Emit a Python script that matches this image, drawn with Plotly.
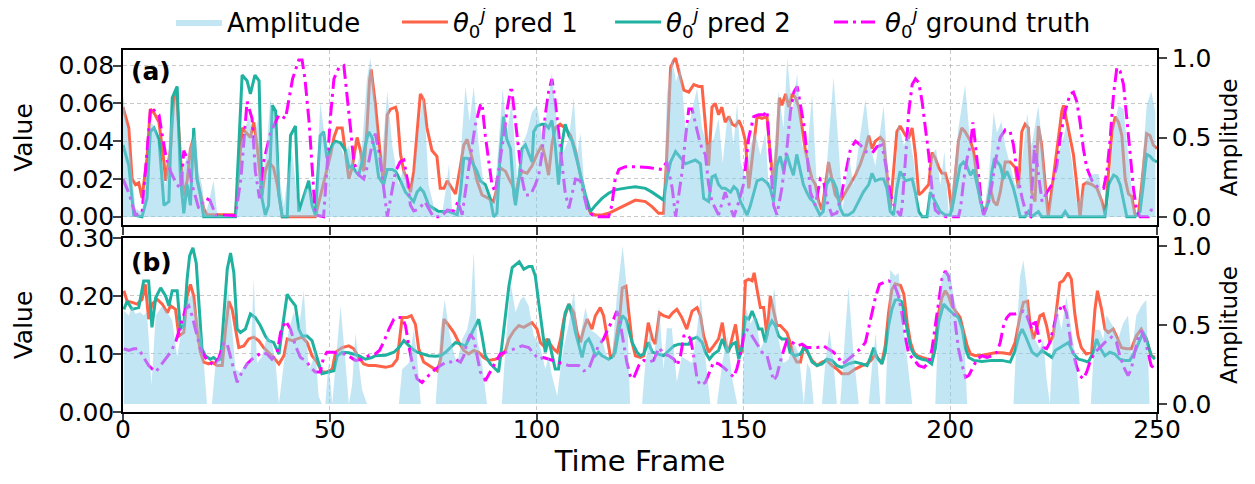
import plotly.graph_objects as go

# ---------------- Panel (a) data ----------------
a_amp_t = [0, 1.8, 3.0, 4.6, 5.8, 6.6, 7.9, 9.1, 10.3, 11.5, 12.7, 13.9, 15.1, 16.3, 17.5, 18.3, 19.1, 20.0, 20.7, 21.9, 22.8, 27.2,
           28.4, 29.6, 30.4, 31.6, 32.8, 33.6, 34.8, 35.6, 36.9, 38.1, 38.9, 39.7, 40.9, 42.1, 42.9, 44.1, 45.3, 46.5, 47.7, 48.5,
           49.8, 51.0, 52.2, 53.4, 54.6, 56.2, 57.8, 59.0, 59.8, 60.6, 61.8, 62.6, 63.9, 65.1, 66.7, 67.9, 69.1, 70.3, 71.5, 72.7,
           73.9, 75.5, 77.2, 78.1, 78.8, 79.6, 80.8, 81.8, 82.8, 83.8, 84.8, 86.0, 87.2, 88.4, 89.6, 90.8, 91.8, 92.8, 94.0, 95.3,
           96.5, 97.7, 98.9, 100.1, 101.3, 102.5, 103.7, 104.9, 106.1, 107.8, 109.0, 109.8, 110.6, 111.4, 112.6, 113.5, 130.7,
           131.5, 132.8, 133.7, 134.8, 136.0, 137.2, 138.8, 140.0, 141.2, 142.8, 144.0, 145.0, 146.0, 146.8, 147.6, 148.5, 149.3,
           150.5, 151.7, 152.9, 154.1, 155.3, 156.1, 157.3, 158.5, 159.7, 160.6, 161.8, 163.0, 164.2, 165.4, 166.6, 167.8, 168.6,
           169.8, 170.6, 171.8, 173.0, 174.0, 175.5, 176.6, 177.9, 179.5, 180.7, 181.9, 183.9, 185.1, 186.1, 187.5, 188.8, 190.0,
           191.2, 192.4, 194.4, 195.6, 196.6, 197.6, 198.6, 199.6, 200.8, 202.0, 203.6, 204.9, 206.5, 208.1, 209.3, 210.5, 211.3,
           212.4, 213.3, 214.5, 215.7, 216.9, 218.6, 219.7, 221.3, 222.5, 223.7, 224.9, 226.1, 227.3, 228.1, 229.4, 230.6, 231.8,
           233.0, 234.7, 235.9, 237.1, 238.3, 239.5, 240.7, 241.9, 243.1, 244.3, 245.5, 246.7, 247.5, 248.6, 249.6]
a_amp = [0.77, 0.39, 0.05, 0.03, 0.28, 0.60, 0.56, 0.39, 0.20, 0.60, 0.77, 0.28, 0.35, 0.45, 0.53, 0.28, 0.20, 0.02, 0.09, 0.23, 0.01, 0.0,
         0.45, 0.56, 0.64, 0.49, 0.64, 0.20, 0.45, 0.74, 0.56, 0.20, 0.07, 0.24, 0.41, 0.12, 0.03, 0.18, 0.16, 0.03, 0.72, 0.56,
         0.39, 0.47, 0.47, 0.39, 0.45, 0.28, 0.45, 0.87, 1.0, 0.83, 0.41, 0.37, 0.79, 0.45, 0.20, 0.32, 0.16, 0.24, 0.56, 0.78,
         0.20, 0.03, 0.03, 0.18, 0.33, 0.03, 0.05, 0.45, 0.82, 0.60, 0.82, 0.45, 0.20, 0.12, 0.09, 0.45, 0.81, 0.53, 0.72, 0.24,
         0.45, 0.53, 0.66, 0.70, 0.51, 0.66, 0.91, 0.58, 0.39, 0.49, 0.75, 0.39, 0.53, 0.24, 0.02, 0.0, 0.0,
         0.77, 1.0, 0.85, 0.94, 0.56, 0.62, 0.81, 0.56, 0.45, 0.49, 0.62, 0.34, 0.60, 0.65, 0.45, 0.72, 0.35,
         0.24, 0.45, 0.53, 0.39, 0.53, 0.20, 0.35, 0.79, 0.56, 1.0, 0.66, 0.90, 0.45, 0.39, 0.77, 0.18, 0.03,
         0.20, 0.45, 0.88, 0.45, 0.05, 0.39, 0.20, 0.45, 0.74, 0.45, 0.32, 0.70, 0.24, 0.01, 0.58, 0.45, 0.53,
         0.35, 0.01, 0.01, 0.39, 0.43, 0.20, 0.41, 0.03, 0.24, 0.56, 0.83, 0.45, 0.32, 0.03, 0.24, 0.66, 0.53,
         0.60, 0.45, 0.32, 0.20, 0.24, 0.65, 0.45, 0.70, 0.39, 0.03, 0.20, 0.39, 0.49, 0.58, 0.35, 0.09, 0.12,
         0.24, 0.27, 0.27, 0.03, 0.09, 0.56, 0.70, 0.68, 0.35, 0.07, 0.0, 0.45, 0.70, 0.79, 0.66]

a_pred1_t = [0, 1.4, 2.2, 3.0, 3.8, 4.6, 5.8, 6.6, 7.5, 8.7, 9.9, 10.3, 11.5, 12.3, 12.9, 13.9, 14.7, 15.5, 16.3, 17.1, 17.9, 18.7,
             19.5, 20.3, 27.2, 28.8, 30.0, 30.8, 31.6, 32.4, 33.6, 34.4, 35.2, 36.4, 37.3, 38.5, 46.5, 48.5, 50.2, 51.0, 51.8, 53.0,
             53.8, 54.6, 55.4, 56.6, 57.4, 58.2, 59.0, 59.6, 60.0, 61.0, 62.2, 63.0, 63.9, 64.7, 65.9, 66.3, 67.1, 67.9, 68.7, 69.5,
             70.3, 71.1, 71.9, 72.7, 73.5, 74.7, 75.9, 76.7, 77.6, 78.4, 79.2, 80.4, 81.6, 82.4, 83.2, 84.4, 85.6, 86.8, 88.4, 89.6,
             90.4, 91.2, 92.5, 93.3, 94.1, 94.9, 95.7, 96.5, 97.7, 98.9, 100.1, 101.3, 102.1, 102.9, 103.7, 104.5, 105.7, 106.9,
             108.2, 109.4, 110.6, 111.8, 113.0, 114.2, 115.8, 117.4, 119.0, 120.6, 122.2, 123.9, 126.3, 127.9, 129.5, 130.7, 131.5,
             132.4, 133.2, 133.6, 134.4, 135.6, 136.8, 138.0, 139.2, 140.0, 140.8, 141.6, 142.4, 143.2, 144.0, 144.8, 145.6, 146.5,
             147.3, 148.1, 148.9, 149.7, 150.5, 151.3, 152.5, 153.3, 154.5, 155.7, 156.5, 157.3, 158.1, 158.7, 159.3, 160.2, 161.0,
             161.8, 162.6, 163.4, 164.2, 165.0, 165.8, 166.6, 167.4, 168.2, 169.0, 169.8, 170.6, 171.4, 172.2, 173.4, 174.6, 175.9,
             177.1, 178.3, 179.5, 180.3, 181.1, 181.9, 183.1, 183.9, 184.7, 185.5, 186.3, 187.1, 187.9, 189.2, 190.0, 190.8, 191.6,
             192.4, 193.2, 194.0, 194.8, 195.6, 196.4, 197.2, 198.0, 198.8, 199.6, 200.4, 201.2, 202.0, 202.8, 203.6, 204.9, 205.7,
             206.5, 207.3, 208.1, 208.9, 209.7, 210.5, 211.3, 212.1, 213.3, 214.5, 215.7, 216.5, 217.3, 218.1, 218.9, 219.7, 220.5,
             221.3, 222.1, 222.9, 223.7, 224.6, 225.4, 226.2, 227.0, 227.4, 228.2, 229.0, 229.8, 230.6, 231.4, 232.2, 233.0, 234.3,
             235.5, 236.7, 237.5, 238.3, 239.1, 239.9, 240.7, 241.5, 242.3, 243.1, 243.9, 244.7, 245.5, 246.3, 247.1, 247.5, 248.3,
             249.1, 250]
a_pred1 = [0.058, 0.047, 0.020, 0.017, 0.018, 0.010, 0.031, 0.057, 0.055, 0.050, 0.029, 0.019, 0.036, 0.063, 0.067, 0.031, 0.011, 0.019,
           0.036, 0.042, 0.020, 0.013, 0.0044, 0.001, 0.001, 0.047, 0.044, 0.042, 0.050, 0.038, 0.0115, 0.024, 0.029, 0.026, 0.017,
           0.0, 0.0, 0.017, 0.033, 0.042, 0.047, 0.047, 0.033, 0.020, 0.026, 0.042, 0.035, 0.024, 0.047, 0.072, 0.078, 0.060, 0.033,
           0.017, 0.054, 0.057, 0.058, 0.055, 0.033, 0.024, 0.020, 0.013, 0.024, 0.047, 0.065, 0.062, 0.047, 0.035, 0.032, 0.015,
           0.015, 0.019, 0.016, 0.012, 0.027, 0.038, 0.041, 0.031, 0.019, 0.0115, 0.0097, 0.008, 0.015, 0.026, 0.024, 0.020, 0.017,
           0.0115, 0.020, 0.024, 0.023, 0.027, 0.033, 0.038, 0.031, 0.022, 0.038, 0.047, 0.049, 0.047, 0.043, 0.035, 0.022, 0.0097,
           0.0018, 0.0009, 0.0009, 0.0018, 0.0035, 0.0053, 0.0071, 0.0088, 0.0080, 0.0053, 0.0018, 0.0018, 0.033, 0.079, 0.083,
           0.084, 0.077, 0.067, 0.066, 0.070, 0.069, 0.069, 0.049, 0.027, 0.058, 0.060, 0.054, 0.058, 0.050, 0.053, 0.049, 0.048,
           0.051, 0.047, 0.040, 0.015, 0.038, 0.053, 0.052, 0.053, 0.033, 0.017, 0.038, 0.063, 0.059, 0.065, 0.058, 0.065, 0.063,
           0.058, 0.047, 0.035, 0.027, 0.020, 0.017, 0.008, 0.0035, 0.017, 0.029, 0.020, 0.0115, 0.008, 0.0124, 0.017, 0.022,
           0.028, 0.036, 0.043, 0.036, 0.040, 0.042, 0.040, 0.024, 0.0044, 0.024, 0.045, 0.048, 0.043, 0.042, 0.047, 0.033,
           0.0115, 0.013, 0.015, 0.017, 0.034, 0.031, 0.026, 0.023, 0.023, 0.017, 0.0027, 0.020, 0.040, 0.047, 0.045, 0.040,
           0.034, 0.020, 0.008, 0.0027, 0.006, 0.015, 0.008, 0.006, 0.013, 0.029, 0.029, 0.026, 0.015, 0.045, 0.049, 0.047, 0.013,
           0.008, 0.048, 0.038, 0.018, 0.0, 0.015, 0.029, 0.040, 0.056, 0.059, 0.050, 0.042, 0.033, 0.017, 0.0, 0.017, 0.018,
           0.017, 0.015, 0.008, 0.0009, 0.024, 0.045, 0.053, 0.050, 0.043, 0.020, 0.012, 0.0106, 0.0009, 0.0009, 0.017, 0.038,
           0.044, 0.043, 0.038, 0.036]

a_pred2_t = [0, 1.4, 2.6, 4.6, 5.8, 6.6, 7.5, 8.7, 9.9, 11.1, 11.9, 13.1, 13.9, 14.7, 15.5, 16.3, 17.1, 17.9, 18.7, 19.5, 27.2, 28.8,
             30.0, 30.8, 31.9, 32.9, 33.6, 34.4, 35.2, 36.1, 36.9, 37.7, 38.5, 39.7, 40.5, 41.7, 42.5, 43.7, 44.9, 45.7, 46.5, 47.7,
             48.5, 49.3, 50.6, 51.4, 52.6, 53.8, 54.6, 55.4, 56.2, 57.0, 57.8, 58.6, 59.4, 60.2, 61.0, 61.8, 63.0, 63.9, 65.1, 65.9,
             67.1, 68.3, 69.5, 70.3, 71.1, 71.9, 72.7, 73.9, 75.1, 76.3, 77.6, 78.8, 80.0, 80.8, 81.6, 82.4, 83.2, 84.4, 85.6, 86.4,
             87.6, 88.8, 89.6, 90.4, 91.2, 92.0, 92.8, 93.7, 94.5, 94.9, 95.7, 96.5, 97.3, 98.1, 98.9, 99.3, 100.1, 101.3, 102.1,
             102.9, 103.7, 104.5, 105.3, 106.1, 106.9, 107.8, 108.6, 109.4, 110.6, 111.8, 113.0, 114.2, 115.8, 117.4, 119.0, 120.6,
             122.2, 123.9, 126.3, 127.9, 129.5, 130.7, 131.5, 132.4, 133.6, 134.8, 136.0, 137.2, 138.4, 139.6, 140.4, 141.6, 142.4,
             143.2, 144.0, 144.8, 145.6, 146.9, 147.7, 148.5, 149.3, 150.1, 150.9, 151.7, 152.5, 153.3, 154.5, 155.7, 156.5, 157.3,
             158.1, 158.9, 159.7, 160.5, 161.3, 162.1, 162.9, 163.7, 164.5, 165.3, 166.1, 166.9, 167.7, 168.5, 169.3, 170.1, 170.9,
             171.7, 172.5, 173.4, 174.2, 175.4, 176.6, 177.8, 179.0, 180.3, 181.1, 181.9, 183.1, 183.9, 184.7, 185.5, 186.3, 187.1,
             187.9, 189.2, 190.0, 190.8, 191.6, 192.4, 193.2, 194.4, 195.2, 196.0, 196.8, 197.6, 198.8, 200.0, 200.8, 201.6, 202.4,
             203.2, 204.0, 204.9, 205.7, 206.5, 207.3, 208.1, 209.3, 210.1, 210.7, 211.3, 212.1, 212.9, 213.7, 214.5, 215.3, 216.1,
             216.9, 218.1, 218.9, 219.7, 221.3, 222.1, 227.0, 227.8, 228.6, 237.4, 238.3, 239.5, 240.3, 241.1, 241.9, 242.7, 244.7,
             245.9, 246.7, 247.5, 248.3, 249.1, 250]
a_pred2 = [0.038, 0.027, 0.0009, 0.0, 0.0097, 0.045, 0.047, 0.041, 0.006, 0.008, 0.063, 0.069, 0.020, 0.0018, 0.017, 0.006, 0.047, 0.020,
           0.0115, 0.0, 0.0, 0.075, 0.072, 0.065, 0.075, 0.072, 0.0097, 0.0009, 0.006, 0.059, 0.056, 0.0115, 0.0, 0.0, 0.043, 0.048,
           0.0027, 0.0115, 0.019, 0.006, 0.0009, 0.043, 0.045, 0.031, 0.038, 0.040, 0.039, 0.035, 0.026, 0.027, 0.024, 0.022,
           0.029, 0.038, 0.045, 0.042, 0.034, 0.021, 0.017, 0.025, 0.025, 0.024, 0.019, 0.013, 0.0097, 0.008, 0.013, 0.015,
           0.013, 0.006, 0.0044, 0.0027, 0.0027, 0.0027, 0.0018, 0.0009, 0.013, 0.031, 0.031, 0.029, 0.024, 0.019, 0.017,
           0.0097, 0.0, 0.0018, 0.033, 0.053, 0.041, 0.036, 0.0115, 0.006, 0.019, 0.036, 0.038, 0.033, 0.029, 0.045, 0.048,
           0.049, 0.049, 0.047, 0.051, 0.038, 0.017, 0.038, 0.049, 0.043, 0.040, 0.033, 0.022, 0.0115, 0.0027, 0.006, 0.0097,
           0.0124, 0.0142, 0.015, 0.0154, 0.0159, 0.015, 0.013, 0.0106, 0.0088, 0.020, 0.029, 0.0345, 0.031, 0.028, 0.029,
           0.030, 0.028, 0.0097, 0.008, 0.021, 0.022, 0.017, 0.015, 0.015, 0.013, 0.0159, 0.0142, 0.008, 0.0044, 0.0009, 0.006,
           0.013, 0.019, 0.020, 0.018, 0.015, 0.008, 0.027, 0.032, 0.024, 0.033, 0.027, 0.022, 0.033, 0.024, 0.017, 0.013,
           0.0097, 0.008, 0.0044, 0.0009, 0.0027, 0.017, 0.020, 0.019, 0.015, 0.0044, 0.0009, 0.0009, 0.0027, 0.008, 0.013,
           0.017, 0.023, 0.019, 0.020, 0.020, 0.015, 0.0027, 0.0009, 0.015, 0.024, 0.019, 0.0195, 0.020, 0.0124, 0.0027, 0.0,
           0.0, 0.013, 0.0097, 0.006, 0.0027, 0.0009, 0.0009, 0.008, 0.017, 0.027, 0.029, 0.027, 0.022, 0.025, 0.017, 0.008,
           0.0009, 0.008, 0.024, 0.031, 0.029, 0.027, 0.020, 0.024, 0.020, 0.015, 0.008, 0.0, 0.0, 0.0027, 0.0, 0.0027, 0.0,
           0.0, 0.0027, 0.0, 0.0, 0.017, 0.022, 0.021, 0.017, 0.008, 0.0, 0.0, 0.0027, 0.017, 0.033, 0.032, 0.030, 0.029]

a_gt_t = [0, 1.5, 3.0, 4.6, 6.7, 8.7, 9.5, 10.3, 11.5, 13.0, 14.0, 14.7, 15.5, 16.7, 18.3, 20.0, 21.0, 22.4, 27.2, 28.5, 30.0, 31.2,
          32.0, 33.0, 34.0, 35.6, 37.7, 39.3, 41.0, 42.5, 43.3, 44.0, 45.0, 45.7, 46.5, 48.5, 50.2, 51.0, 52.2, 53.4, 54.2, 55.0,
          55.8, 57.0, 58.2, 59.4, 60.2, 61.0, 62.0, 63.9, 65.9, 67.0, 67.9, 68.7, 69.5, 70.3, 71.5, 73.0, 75.0, 77.0, 78.4, 80.0,
          81.0, 82.0, 83.2, 84.4, 85.2, 86.4, 86.8, 87.6, 88.4, 89.2, 90.0, 91.2, 92.0, 92.8, 93.7, 94.0, 94.9, 95.7, 96.5, 97.3,
          98.5, 99.7, 100.5, 101.3, 102.1, 102.9, 103.7, 104.5, 105.3, 106.1, 106.9, 107.8, 108.6, 109.4, 110.6, 111.4, 112.2,
          113.4, 115.0, 117.4, 118.2, 119.0, 119.9, 121.5, 124.0, 127.0, 130.3, 131.5, 132.8, 133.6, 135.2, 136.0, 136.8, 137.6,
          138.4, 139.2, 140.0, 140.8, 141.6, 142.4, 144.0, 145.6, 146.9, 147.7, 148.9, 150.0, 151.3, 152.5, 153.7, 154.9, 155.7,
          156.5, 157.3, 158.1, 159.3, 160.6, 161.4, 162.2, 163.0, 163.8, 164.6, 165.4, 166.2, 167.4, 168.6, 169.4, 170.2, 171.4,
          172.6, 173.8, 174.6, 175.9, 177.1, 178.3, 179.5, 181.1, 182.3, 183.5, 184.7, 185.5, 186.7, 188.0, 188.4, 189.2, 190.0,
          190.8, 191.6, 192.4, 193.2, 194.0, 194.8, 195.6, 196.4, 197.6, 199.0, 202.0, 202.5, 203.3, 204.1, 204.9, 205.5, 206.1,
          206.9, 207.7, 208.1, 209.3, 210.1, 210.9, 212.1, 213.3, 214.5, 215.3, 216.1, 217.4, 218.6, 219.4, 220.4, 221.4, 222.2,
          223.4, 224.6, 225.8, 226.6, 227.8, 229.0, 229.8, 230.6, 231.4, 232.2, 233.0, 234.3, 235.9, 237.1, 237.9, 238.7, 239.5,
          240.3, 241.1, 241.9, 242.7, 243.5, 244.3, 245.1, 245.9, 247.9, 248.6, 250]
a_gt = [0.020, 0.012, 0.001, 0.002, 0.058, 0.054, 0.043, 0.033, 0.024, 0.017, 0.015, 0.035, 0.031, 0.017, 0.0044, 0.0097, 0.0088, 0.0009,
        0.0005, 0.020, 0.061, 0.052, 0.024, 0.0097, 0.029, 0.044, 0.054, 0.052, 0.073, 0.083, 0.083, 0.073, 0.050, 0.024, 0.001,
        0.0, 0.054, 0.073, 0.079, 0.080, 0.065, 0.047, 0.029, 0.022, 0.020, 0.029, 0.038, 0.044, 0.033, 0.0, 0.024, 0.029, 0.030,
        0.020, 0.006, 0.003, 0.004, 0.008, 0.0, 0.0, 0.0035, 0.003, 0.008, 0.001, 0.020, 0.038, 0.049, 0.059, 0.060, 0.043, 0.029,
        0.017, 0.013, 0.029, 0.042, 0.056, 0.067, 0.067, 0.049, 0.033, 0.020, 0.0115, 0.0115, 0.017, 0.022, 0.033, 0.054, 0.066,
        0.073, 0.061, 0.045, 0.029, 0.013, 0.0044, 0.0115, 0.020, 0.019, 0.0115, 0.0044, 0.001, 0.0, 0.0, 0.006, 0.020, 0.025,
        0.0265, 0.0265, 0.026, 0.025, 0.029, 0.015, 0.0, 0.024, 0.042, 0.057, 0.057, 0.049, 0.042, 0.036, 0.033, 0.017, 0.008,
        0.001, 0.013, 0.0044, 0.0, 0.008, 0.017, 0.042, 0.053, 0.054, 0.054, 0.056, 0.033, 0.006, 0.001, 0.015, 0.038, 0.056,
        0.066, 0.069, 0.059, 0.049, 0.033, 0.013, 0.006, 0.020, 0.019, 0.008, 0.001, 0.002, 0.013, 0.022, 0.036, 0.040, 0.038,
        0.0345, 0.0336, 0.037, 0.038, 0.024, 0.012, 0.0044, 0.0005, 0.006, 0.031, 0.056, 0.070, 0.073, 0.071, 0.061, 0.047,
        0.033, 0.015, 0.0035, 0.001, 0.0, 0.0, 0.0044, 0.020, 0.031, 0.038, 0.050, 0.038, 0.020, 0.0044, 0.001, 0.008, 0.017,
        0.029, 0.042, 0.046, 0.045, 0.038, 0.024, 0.0097, 0.0, 0.0, 0.038, 0.020, 0.008, 0.013, 0.017, 0.027, 0.042, 0.056,
        0.065, 0.066, 0.061, 0.050, 0.036, 0.026, 0.019, 0.015, 0.015, 0.024, 0.042, 0.065, 0.079, 0.077, 0.070, 0.052, 0.033,
        0.015, 0.003, 0.0, 0.0, 0.0035, 0.003]

# ---------------- Panel (b) data ----------------
b_amp_t = [0.2, 1.4, 2.2, 3.0, 4.2, 5.0, 5.8, 6.9, 7.9, 9.5, 10.7, 11.9, 13.1, 14.3, 15.5, 16.7, 17.9, 19.1, 20.3, 21.5, 22.4, 23.6,
           24.4, 25.4, 26.4, 27.2, 28.4, 29.6, 30.8, 31.6, 32.4, 33.6, 34.8, 36.0, 36.9, 37.7, 38.9, 40.1, 41.3, 42.5, 43.7, 44.9,
           45.7, 46.5, 47.3, 48.1, 48.9, 49.7, 50.6, 51.4, 52.6, 53.8, 54.6, 55.4, 56.2, 57.0, 57.8, 59.0, 66.7, 67.5, 69.1, 70.3,
           71.1, 72.0, 75.6, 76.8, 77.8, 78.8, 80.0, 80.8, 82.0, 83.2, 84.0, 84.8, 85.6, 86.8, 88.0, 91.6, 92.5, 93.7, 94.9, 96.1,
           96.9, 98.1, 99.3, 100.5, 101.3, 102.1, 102.9, 103.7, 105.0, 106.1, 107.8, 109.0, 110.2, 111.8, 113.0, 114.2, 115.8,
           117.0, 118.2, 119.4, 120.8, 121.6, 122.6, 125.5, 126.3, 127.5, 128.3, 129.6, 130.7, 131.5, 132.7, 133.9, 135.1, 136.3,
           137.6, 138.8, 139.7, 140.8, 142.0, 143.6, 144.9, 146.1, 147.3, 148.5, 149.7, 150.5, 151.7, 152.9, 154.1, 155.3, 156.5,
           157.5, 158.5, 159.7, 160.9, 162.1, 163.4, 164.6, 165.4, 166.2, 167.0, 169.0, 169.8, 170.8, 171.8, 172.6, 173.4, 174.2,
           175.4, 176.6, 177.9, 180.3, 181.1, 182.0, 183.1, 184.3, 185.5, 186.7, 187.5, 188.8, 190.0, 190.8, 196.4, 197.2, 198.0,
           198.8, 200.0, 200.8, 202.0, 203.3, 204.1, 215.3, 216.1, 216.9, 217.7, 218.5, 219.3, 220.5, 221.7, 222.5, 223.3, 224.1,
           224.9, 225.7, 226.9, 228.1, 229.3, 230.5, 231.3, 234.0, 235.0, 236.2, 237.0, 237.8, 239.4, 240.6, 241.8, 243.0, 243.8,
           245.0, 246.2, 247.4, 248.2, 249.5]
b_amp = [0.59, 0.56, 0.62, 0.57, 0.58, 0.56, 0.58, 0.12, 0.56, 0.62, 0.58, 0.53, 0.30, 0.49, 0.65, 0.70, 0.56, 0.41, 0.0, 0.0, 0.26, 0.32,
         0.47, 0.72, 0.47, 0.22, 0.20, 0.26, 0.26, 0.79, 0.26, 0.30, 0.43, 0.39, 0.26, 0.0, 0.26, 0.47, 0.58, 0.47, 0.72, 0.22,
         0.26, 0.35, 0.05, 0.0, 0.0, 0.26, 0.0, 0.26, 0.62, 0.26, 0.0, 0.12, 0.45, 0.26, 0.09, 0.0, 0.0, 0.22, 0.26, 0.47,
         0.30, 0.0, 0.0, 0.47, 0.66, 0.47, 0.32, 0.26, 0.41, 0.47, 0.58, 0.96, 0.41, 0.26, 0.0, 0.0, 0.37, 0.77, 0.58, 0.66,
         0.68, 0.62, 0.43, 0.39, 0.32, 0.22, 0.30, 0.18, 0.05, 0.30, 0.51, 0.71, 0.37, 0.61, 0.47, 0.45, 0.41,
         0.30, 0.28, 0.68, 1.0, 0.79, 0.0, 0.0, 0.26, 0.47, 0.26, 0.62, 0.22, 0.48, 0.48, 0.14, 0.30, 0.28,
         0.26, 0.47, 0.69, 0.30, 0.0, 0.0, 0.26, 0.43, 0.16, 0.0, 0.0, 0.62, 0.51, 0.56, 0.35, 0.41, 0.58,
         0.73, 0.41, 0.26, 0.28, 0.39, 0.32, 0.0, 0.26, 0.22, 0.0, 0.0, 0.26, 0.47, 0.26, 0.0, 0.0, 0.30,
         0.74, 0.32, 0.0, 0.0, 0.24, 0.45, 0.0, 0.0, 0.85, 0.81, 0.83, 0.47, 0.18, 0.0, 0.0, 0.58, 0.81,
         0.84, 0.83, 0.68, 0.56, 0.47, 0.0, 0.0, 0.47, 0.81, 0.91, 0.74, 0.47, 0.41, 0.35, 0.41, 0.16, 0.0,
         0.47, 0.62, 0.47, 0.68, 0.47, 0.26, 0.0, 0.0, 0.47, 0.47, 0.41, 0.56, 0.49, 0.41, 0.51, 0.56, 0.30,
         0.56, 0.62, 0.66, 0.0, 0.0]

b_pred1_t = [0.2, 1.0, 2.2, 3.4, 4.6, 5.4, 6.2, 7.0, 8.3, 9.5, 10.7, 11.5, 12.7, 13.5, 14.7, 15.5, 16.3, 17.1, 17.9, 18.7, 19.5, 20.7,
             21.5, 22.8, 24.0, 24.8, 25.6, 26.4, 27.2, 28.0, 29.2, 30.4, 31.6, 32.8, 34.0, 35.2, 36.4, 37.7, 38.9, 39.7, 40.9, 42.1,
             43.3, 44.5, 45.7, 46.9, 48.1, 49.3, 50.6, 51.4, 53.0, 54.6, 55.8, 57.0, 58.2, 59.4, 61.0, 63.5, 65.1, 66.3, 67.1, 67.5,
             68.7, 69.7, 70.7, 71.5, 72.7, 73.9, 75.1, 76.0, 76.8, 77.6, 78.8, 80.0, 81.2, 82.4, 83.6, 84.8, 86.0, 87.2, 88.4, 90.0,
             91.2, 92.5, 93.3, 94.5, 95.7, 96.9, 98.1, 98.9, 100.1, 100.9, 101.7, 102.5, 103.3, 104.1, 105.0, 105.8, 106.6, 107.8,
             109.0, 109.8, 110.6, 111.4, 112.2, 113.4, 114.2, 115.4, 116.2, 117.0, 117.8, 118.6, 119.4, 120.2, 120.7, 121.6, 122.3,
             123.1, 123.9, 125.1, 125.9, 127.0, 128.0, 128.7, 129.7, 130.7, 132.0, 132.9, 133.9, 135.1, 136.3, 137.6, 138.8, 139.6,
             140.4, 141.6, 142.8, 144.0, 144.9, 145.6, 146.4, 147.3, 148.1, 148.9, 149.7, 150.5, 151.3, 152.1, 152.6, 153.3, 154.1,
             154.9, 155.7, 156.5, 157.3, 158.1, 158.9, 159.7, 160.5, 161.3, 162.1, 162.9, 163.8, 164.6, 165.4, 166.6, 167.8, 169.0,
             170.2, 171.4, 172.6, 173.8, 175.4, 177.0, 178.7, 179.9, 181.1, 181.9, 182.7, 183.5, 184.3, 185.1, 185.9, 186.7, 188.0,
             188.8, 189.6, 190.4, 191.2, 192.0, 193.2, 194.4, 195.6, 196.4, 197.2, 198.0, 198.8, 199.6, 200.4, 201.6, 202.4, 203.3,
             204.1, 204.9, 206.1, 207.7, 209.3, 210.9, 212.5, 214.5, 215.7, 216.9, 217.7, 218.7, 219.3, 220.1, 220.9, 221.7, 222.5,
             223.3, 224.1, 224.9, 225.7, 226.5, 227.3, 228.1, 228.5, 229.3, 230.1, 230.9, 231.7, 232.9, 234.2, 235.0, 235.6, 236.6,
             237.4, 238.2, 239.4, 240.2, 241.4, 242.6, 243.8, 245.0, 246.2, 247.4, 248.6, 249.5]
b_pred1 = [0.209, 0.191, 0.189, 0.186, 0.194, 0.220, 0.160, 0.186, 0.194, 0.186, 0.171, 0.183, 0.177, 0.131, 0.137, 0.200, 0.220, 0.200,
           0.143, 0.103, 0.086, 0.083, 0.086, 0.080, 0.080, 0.143, 0.191, 0.177, 0.143, 0.111, 0.114, 0.126, 0.129, 0.123, 0.111,
           0.103, 0.094, 0.083, 0.097, 0.126, 0.123, 0.126, 0.129, 0.120, 0.097, 0.086, 0.069, 0.069, 0.074, 0.103, 0.111, 0.114,
           0.109, 0.094, 0.083, 0.080, 0.080, 0.077, 0.080, 0.091, 0.137, 0.163, 0.163, 0.166, 0.151, 0.109, 0.086, 0.080, 0.074,
           0.071, 0.091, 0.160, 0.149, 0.137, 0.120, 0.106, 0.100, 0.106, 0.103, 0.094, 0.089, 0.091, 0.094, 0.106, 0.126, 0.140,
           0.149, 0.146, 0.151, 0.154, 0.143, 0.120, 0.114, 0.126, 0.117, 0.109, 0.103, 0.126, 0.160, 0.186, 0.171, 0.137, 0.120,
           0.143, 0.160, 0.143, 0.166, 0.180, 0.166, 0.131, 0.097, 0.097, 0.131, 0.171, 0.214, 0.217, 0.171, 0.120, 0.097, 0.094,
           0.097, 0.154, 0.126, 0.117, 0.171, 0.166, 0.163, 0.171, 0.177, 0.163, 0.143, 0.174, 0.180, 0.166, 0.131, 0.103, 0.114,
           0.126, 0.154, 0.120, 0.103, 0.126, 0.151, 0.109, 0.103, 0.226, 0.229, 0.226, 0.240, 0.211, 0.180, 0.180, 0.131, 0.200,
           0.177, 0.149, 0.149, 0.143, 0.137, 0.120, 0.097, 0.086, 0.086, 0.114, 0.103, 0.089, 0.080, 0.086, 0.089, 0.080, 0.074,
           0.066, 0.066, 0.074, 0.080, 0.083, 0.091, 0.100, 0.091, 0.086, 0.114, 0.171, 0.211, 0.221, 0.218, 0.203, 0.154, 0.120,
           0.103, 0.097, 0.094, 0.091, 0.089, 0.120, 0.171, 0.197, 0.209, 0.200, 0.183, 0.171, 0.163, 0.137, 0.114, 0.100, 0.097,
           0.098, 0.100, 0.102, 0.102, 0.100, 0.120, 0.166, 0.189, 0.191, 0.154, 0.126, 0.143, 0.166, 0.169, 0.149, 0.120, 0.131,
           0.177, 0.223, 0.226, 0.237, 0.240, 0.229, 0.171, 0.131, 0.111, 0.100, 0.103, 0.177, 0.209, 0.177, 0.143, 0.137, 0.143,
           0.131, 0.111, 0.109, 0.109, 0.131, 0.143, 0.126, 0.097, 0.094]

b_pred2_t = [0.2, 1.0, 2.2, 3.8, 5.0, 6.2, 7.0, 7.9, 9.1, 10.3, 11.1, 11.9, 13.1, 13.9, 14.7, 15.5, 16.1, 16.9, 17.7, 18.3, 19.1, 19.9,
             21.1, 21.9, 22.8, 23.6, 24.4, 25.2, 26.0, 26.8, 27.6, 28.4, 29.6, 30.8, 32.0, 33.2, 34.4, 35.2, 36.4, 37.7, 38.5, 39.7,
             40.5, 41.7, 42.5, 43.3, 44.5, 45.7, 46.9, 48.1, 49.7, 51.0, 51.8, 53.0, 54.6, 55.8, 57.0, 58.6, 60.2, 61.0, 63.5, 65.5,
             66.7, 67.9, 68.7, 69.9, 71.1, 72.3, 73.9, 75.5, 76.8, 78.0, 79.2, 80.4, 81.6, 82.8, 84.0, 85.2, 86.0, 86.8, 87.6, 88.8,
             90.0, 90.8, 91.6, 92.5, 93.3, 94.1, 94.9, 95.8, 96.9, 98.1, 98.9, 99.7, 100.5, 101.3, 102.1, 102.9, 103.7, 104.5, 105.3,
             106.1, 106.9, 107.8, 108.6, 109.4, 110.2, 111.0, 111.8, 112.6, 113.4, 114.2, 115.0, 115.8, 116.6, 117.4, 118.2, 119.0,
             119.8, 120.7, 121.6, 122.3, 123.1, 124.3, 125.1, 125.9, 127.0, 128.0, 129.6, 130.7, 132.0, 133.2, 134.4, 135.6, 136.8,
             137.6, 138.8, 140.0, 140.8, 141.8, 142.8, 144.0, 144.9, 146.1, 147.3, 148.1, 148.9, 149.7, 150.5, 151.3, 152.1, 152.9,
             153.7, 154.5, 155.3, 156.1, 156.9, 157.7, 158.5, 159.3, 160.5, 161.3, 162.5, 163.8, 164.6, 165.4, 166.6, 167.8, 169.0,
             170.2, 171.4, 172.6, 173.8, 175.4, 177.0, 178.7, 179.9, 180.7, 181.5, 182.3, 183.5, 184.3, 185.1, 185.9, 186.7, 187.5,
             188.3, 189.4, 190.4, 191.2, 192.0, 193.2, 194.4, 195.5, 196.4, 197.2, 198.4, 199.6, 200.8, 202.0, 202.9, 203.7, 204.5,
             205.7, 207.7, 210.1, 212.5, 214.5, 215.7, 216.6, 217.4, 218.2, 219.0, 219.8, 221.0, 222.2, 223.4, 224.6, 225.4, 226.6,
             227.8, 228.6, 229.8, 231.0, 232.2, 233.4, 234.6, 235.4, 236.2, 237.4, 238.6, 239.8, 241.0, 242.2, 243.4, 244.6, 245.8,
             246.6, 247.4, 248.6, 249.5]
b_pred2 = [0.177, 0.191, 0.177, 0.180, 0.226, 0.226, 0.146, 0.197, 0.214, 0.200, 0.183, 0.209, 0.209, 0.143, 0.149, 0.229, 0.269, 0.283,
           0.257, 0.200, 0.109, 0.097, 0.091, 0.094, 0.089, 0.091, 0.171, 0.246, 0.274, 0.240, 0.143, 0.137, 0.143, 0.169, 0.163,
           0.149, 0.131, 0.123, 0.120, 0.100, 0.143, 0.203, 0.194, 0.183, 0.143, 0.131, 0.131, 0.123, 0.094, 0.066, 0.069, 0.071,
           0.097, 0.103, 0.102, 0.100, 0.097, 0.091, 0.094, 0.097, 0.098, 0.103, 0.111, 0.123, 0.117, 0.109, 0.103, 0.100, 0.097,
           0.096, 0.097, 0.103, 0.111, 0.120, 0.117, 0.114, 0.131, 0.149, 0.160, 0.131, 0.097, 0.083, 0.074, 0.069, 0.114, 0.171,
           0.217, 0.249, 0.254, 0.259, 0.246, 0.251, 0.251, 0.234, 0.189, 0.143, 0.103, 0.126, 0.097, 0.074, 0.074, 0.126, 0.171,
           0.186, 0.166, 0.137, 0.114, 0.094, 0.120, 0.126, 0.114, 0.097, 0.103, 0.097, 0.094, 0.091, 0.094, 0.103, 0.137, 0.166,
           0.160, 0.143, 0.120, 0.103, 0.097, 0.100, 0.120, 0.103, 0.100, 0.097, 0.106, 0.114, 0.117, 0.117, 0.117, 0.126, 0.129,
           0.120, 0.103, 0.091, 0.100, 0.106, 0.126, 0.103, 0.117, 0.120, 0.091, 0.114, 0.163, 0.160, 0.174, 0.160, 0.143, 0.143,
           0.120, 0.146, 0.157, 0.149, 0.131, 0.126, 0.126, 0.103, 0.097, 0.100, 0.111, 0.106, 0.086, 0.080, 0.083, 0.091, 0.089,
           0.080, 0.077, 0.083, 0.086, 0.083, 0.080, 0.094, 0.111, 0.094, 0.083, 0.103, 0.149, 0.177, 0.193, 0.194, 0.190, 0.150,
           0.111, 0.100, 0.094, 0.091, 0.089, 0.083, 0.109, 0.154, 0.186, 0.177, 0.169, 0.163, 0.143, 0.109, 0.094, 0.089, 0.087,
           0.089, 0.089, 0.086, 0.106, 0.131, 0.143, 0.131, 0.117, 0.103, 0.097, 0.106, 0.100, 0.094, 0.106, 0.111, 0.117, 0.120,
           0.100, 0.091, 0.089, 0.086, 0.103, 0.126, 0.111, 0.097, 0.103, 0.100, 0.091, 0.089, 0.089, 0.103, 0.123, 0.137, 0.126,
           0.097, 0.091]

b_gt_t = [0.2, 1.4, 2.6, 3.8, 5.0, 6.2, 7.9, 9.1, 10.3, 11.5, 12.7, 13.9, 15.1, 15.9, 16.7, 17.5, 18.7, 19.9, 21.1, 21.9, 23.2, 24.4,
          25.2, 26.4, 27.6, 28.8, 30.0, 31.2, 32.4, 33.6, 34.8, 36.0, 37.3, 38.1, 39.3, 40.5, 41.7, 42.9, 44.1, 45.3, 46.5, 47.7,
          48.5, 49.3, 51.0, 52.2, 53.8, 55.0, 56.2, 57.8, 59.4, 61.0, 62.0, 63.0, 64.3, 65.5, 66.3, 67.5, 68.3, 69.1, 69.9, 71.1,
          72.3, 73.9, 75.5, 76.8, 78.0, 79.2, 80.4, 81.6, 82.4, 83.2, 84.0, 84.8, 85.6, 86.4, 87.6, 88.8, 90.0, 91.2, 92.5, 93.7,
          94.9, 96.5, 98.1, 99.3, 100.5, 101.7, 102.9, 104.1, 105.3, 106.6, 107.8, 109.0, 110.2, 111.4, 112.6, 113.8, 115.0, 116.2,
          117.4, 118.6, 119.4, 120.2, 121.0, 121.8, 122.6, 123.4, 124.7, 125.9, 127.1, 128.3, 129.6, 130.7, 132.0, 133.2, 134.0,
          134.8, 135.6, 136.4, 137.2, 138.0, 138.8, 139.6, 140.8, 141.8, 142.8, 144.0, 145.2, 146.4, 147.6, 148.4, 149.2, 150.5,
          151.3, 152.1, 153.3, 154.5, 155.7, 156.5, 157.3, 158.1, 159.3, 160.5, 161.8, 163.0, 164.2, 165.4, 166.6, 167.8, 169.4,
          170.6, 171.8, 173.0, 173.8, 174.6, 175.9, 177.1, 178.3, 179.5, 180.3, 181.1, 181.9, 182.9, 183.9, 185.1, 186.3, 187.5,
          188.4, 189.2, 190.0, 191.2, 192.4, 193.7, 194.9, 195.6, 196.4, 197.2, 198.0, 198.8, 199.6, 200.4, 201.2, 202.0, 202.9,
          203.7, 204.5, 205.3, 206.5, 207.7, 208.9, 210.1, 211.3, 212.1, 212.9, 213.7, 214.5, 215.7, 216.9, 217.7, 218.5, 219.7,
          220.5, 221.7, 222.5, 223.3, 224.1, 224.9, 225.7, 226.5, 227.3, 228.1, 228.5, 229.3, 230.5, 231.3, 232.2, 233.0, 233.8,
          235.0, 236.2, 237.4, 239.0, 240.2, 241.0, 242.2, 243.0, 243.8, 244.6, 245.4, 246.2, 247.0, 247.8, 248.6, 249.5]
b_gt = [0.109, 0.106, 0.109, 0.109, 0.094, 0.080, 0.069, 0.080, 0.091, 0.103, 0.120, 0.149, 0.177, 0.183, 0.166, 0.143, 0.109, 0.094,
        0.086, 0.080, 0.094, 0.120, 0.117, 0.086, 0.051, 0.069, 0.083, 0.091, 0.097, 0.103, 0.100, 0.091, 0.103, 0.137, 0.157,
        0.143, 0.114, 0.094, 0.089, 0.077, 0.069, 0.069, 0.094, 0.103, 0.103, 0.100, 0.100, 0.094, 0.089, 0.091, 0.097, 0.100,
        0.106, 0.120, 0.143, 0.160, 0.163, 0.163, 0.149, 0.114, 0.086, 0.057, 0.051, 0.063, 0.074, 0.080, 0.086, 0.086, 0.091,
        0.086, 0.097, 0.120, 0.134, 0.126, 0.097, 0.069, 0.054, 0.069, 0.086, 0.100, 0.103, 0.106, 0.109, 0.114, 0.111, 0.100,
        0.091, 0.094, 0.091, 0.089, 0.086, 0.083, 0.080, 0.080, 0.080, 0.071, 0.074, 0.097, 0.114, 0.126, 0.146, 0.160, 0.174,
        0.154, 0.120, 0.086, 0.063, 0.057, 0.080, 0.089, 0.086, 0.089, 0.111, 0.100, 0.097, 0.091, 0.080, 0.097, 0.131, 0.134,
        0.126, 0.097, 0.057, 0.046, 0.051, 0.069, 0.086, 0.083, 0.077, 0.069, 0.060, 0.074, 0.097, 0.143, 0.140, 0.131, 0.117,
        0.103, 0.097, 0.074, 0.054, 0.063, 0.097, 0.123, 0.120, 0.114, 0.117, 0.111, 0.111, 0.111, 0.114, 0.109, 0.103, 0.094,
        0.083, 0.086, 0.094, 0.103, 0.109, 0.120, 0.143, 0.171, 0.197, 0.220, 0.223, 0.226, 0.223, 0.200, 0.166, 0.126, 0.100,
        0.089, 0.080, 0.077, 0.086, 0.109, 0.149, 0.194, 0.229, 0.243, 0.234, 0.200, 0.154, 0.109, 0.080, 0.060, 0.063, 0.074,
        0.091, 0.097, 0.094, 0.097, 0.103, 0.120, 0.149, 0.163, 0.169, 0.169, 0.171, 0.174, 0.166, 0.143, 0.160, 0.120, 0.111,
        0.109, 0.120, 0.143, 0.166, 0.177, 0.186, 0.171, 0.154, 0.114, 0.080, 0.063, 0.057, 0.069, 0.086, 0.103, 0.111, 0.120,
        0.129, 0.120, 0.097, 0.074, 0.063, 0.074, 0.103, 0.126, 0.140, 0.126, 0.103, 0.080, 0.074]

# ---------------- Labels / ticks ----------------
legend_names = ["Amplitude", "<i>θ</i><sub>0</sub><sup><i>j</i></sup> pred 1",
                "<i>θ</i><sub>0</sub><sup><i>j</i></sup> pred 2",
                "<i>θ</i><sub>0</sub><sup><i>j</i></sup> ground truth"]
x_ticks = [0, 50, 100, 150, 200, 250]
a_yticks = [0.00, 0.02, 0.04, 0.06, 0.08]
b_yticks = [0.00, 0.10, 0.20, 0.30]
amp_ticks = [0.0, 0.5, 1.0]

C_AMP = "rgba(135,206,235,0.5)"
C_P1 = "#FF6347"
C_P2 = "#20B2A0"
C_GT = "#FF00FF"
GT_DASH = "14px,5px,3px,5px"
LW = 3

fig = go.Figure()

legend_ids = ["legend", "legend2", "legend3", "legend4"]
panels = [
    ("x", "y", "y2", a_amp_t, a_amp, a_pred1_t, a_pred1, a_pred2_t, a_pred2, a_gt_t, a_gt, True),
    ("x2", "y3", "y4", b_amp_t, b_amp, b_pred1_t, b_pred1, b_pred2_t, b_pred2, b_gt_t, b_gt, False),
]
for xa, ya, ya2, at, av, p1t, p1, p2t, p2, gt_t, gt, show in panels:
    fig.add_trace(go.Scatter(x=at, y=av, xaxis=xa, yaxis=ya2, mode="lines", fill="tozeroy",
                             fillcolor=C_AMP, line=dict(width=0, color=C_AMP), name=legend_names[0],
                             showlegend=show, legend=legend_ids[0], hoverinfo="skip"))
    fig.add_trace(go.Scatter(x=p1t, y=p1, xaxis=xa, yaxis=ya, mode="lines",
                             line=dict(color=C_P1, width=LW), name=legend_names[1],
                             showlegend=show, legend=legend_ids[1]))
    fig.add_trace(go.Scatter(x=p2t, y=p2, xaxis=xa, yaxis=ya, mode="lines",
                             line=dict(color=C_P2, width=LW), name=legend_names[2],
                             showlegend=show, legend=legend_ids[2]))
    fig.add_trace(go.Scatter(x=gt_t, y=gt, xaxis=xa, yaxis=ya, mode="lines",
                             line=dict(color=C_GT, width=LW, dash=GT_DASH), name=legend_names[3],
                             showlegend=show, legend=legend_ids[3]))

FONT = "DejaVu Sans"
TICKF = dict(family=FONT, size=25, color="black")
GRID = dict(showgrid=True, gridcolor="rgba(176,176,176,0.7)", gridwidth=1, griddash="4px,3px")
common_x = dict(range=[0, 250], tickvals=x_ticks, ticks="outside", ticklen=8, tickwidth=1.5,
                showline=True, linecolor="black", linewidth=1.5, mirror=True, zeroline=False,
                tickfont=TICKF, automargin=False, ticklabelstandoff=-14, **GRID)
common_y = dict(ticks="outside", ticklen=8, tickwidth=1.5, showline=True, linecolor="black",
                linewidth=1.5, mirror=False, zeroline=False, tickfont=TICKF, tickformat=".2f",
                automargin=False, ticklabelstandoff=-6,
                title=dict(text="Value", font=dict(family=FONT, size=25), standoff=19), **GRID)
common_y2 = dict(range=[-0.05, 1.05], tickvals=amp_ticks, tickformat=".1f", side="right",
                 ticks="outside", ticklen=8, tickwidth=1.5, showline=True, linecolor="black",
                 linewidth=1.5, showgrid=False, zeroline=False, tickfont=TICKF, automargin=False,
                 title=dict(text="Amplitude", font=dict(family=FONT, size=23), standoff=10))

top_dom = [0.5166, 1.0]
bot_dom = [0.0, 0.4807]

# legend boxes placed individually (container coordinates; page has an 8px body margin)
legend_x = [0.1307, 0.3119, 0.4828, 0.6584]
LEG_Y = 1 - 14 / 476
legend_layouts = {}
for lid, lx in zip(legend_ids, legend_x):
    legend_layouts[lid] = dict(orientation="h", x=lx, xanchor="left", xref="container",
                               y=LEG_Y, yanchor="middle", yref="container",
                               font=dict(family=FONT, size=26), bgcolor="rgba(0,0,0,0)",
                               itemwidth=46)

# the page body has an 8px default margin, so the figure is sized/positioned to compensate
fig.update_layout(
    width=1247, height=476,
    margin=dict(l=115, r=98, t=42, b=72, autoexpand=False),
    paper_bgcolor="white", plot_bgcolor="white",
    font=dict(family=FONT, color="black"),
    xaxis=dict(domain=[0, 1], anchor="y", showticklabels=False, **common_x),
    xaxis2=dict(domain=[0, 1], anchor="y3", showticklabels=True,
                title=dict(text="Time Frame", font=dict(family=FONT, size=29), standoff=4), **common_x),
    yaxis=dict(domain=top_dom, anchor="x", range=[-0.0044, 0.0883], tickvals=a_yticks, **common_y),
    yaxis2=dict(anchor="x", overlaying="y", **common_y2),
    yaxis3=dict(domain=bot_dom, anchor="x2", range=[0, 0.30], tickvals=b_yticks, **common_y),
    yaxis4=dict(anchor="x2", overlaying="y3", **common_y2),
    showlegend=True,
    annotations=[
        dict(text="<b>(a)</b>", xref="paper", yref="paper", x=0.006, y=0.94, xanchor="left",
             yanchor="middle", showarrow=False, font=dict(family=FONT, size=25, color="black")),
        dict(text="<b>(b)</b>", xref="paper", yref="paper", x=0.006, y=0.414, xanchor="left",
             yanchor="middle", showarrow=False, font=dict(family=FONT, size=25, color="black")),
    ],
    **legend_layouts,
)

fig.write_html("out.html")
